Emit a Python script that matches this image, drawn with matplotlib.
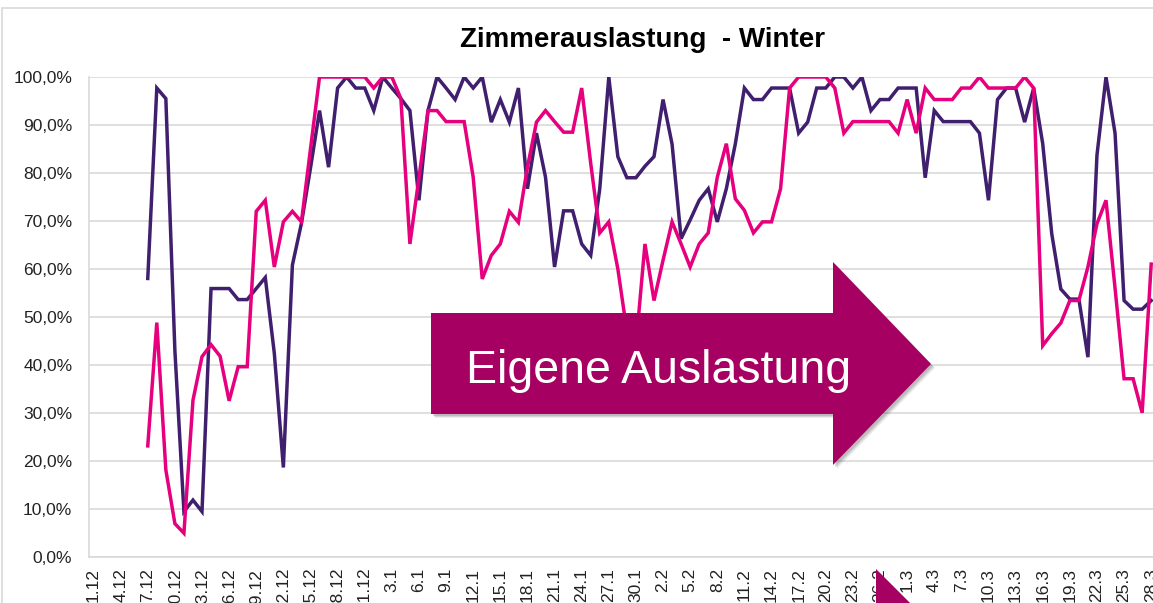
import matplotlib
matplotlib.use("Agg")
import matplotlib.pyplot as plt
from matplotlib.patches import Polygon, Rectangle
import numpy as np
import pandas as pd

plt.rcParams['font.family'] = ['Liberation Sans', 'DejaVu Sans']

# ---------------- data ----------------
title = "Zimmerauslastung  - Winter"
arrow_text = "Eigene Auslastung"
start_date = "2018-12-01"
n_days = 120
first_idx = 6  # series start at 7.12

dark_series = [
    58.0, 97.7, 95.5, 43.0, 9.4, 11.8, 9.4, 55.9, 55.9, 55.9,
    53.6, 53.6, 55.9, 58.2, 42.4, 18.6, 60.8, 69.5, 81.0, 93.0,
    81.2, 97.7, 100.0, 97.7, 97.7, 93.0, 100.0, 97.7, 95.5, 93.0,
    74.3, 93.0, 100.0, 97.7, 95.3, 100.0, 97.7, 100.0, 90.6, 95.3,
    90.6, 97.7, 76.7, 88.3, 79.1, 60.4, 72.1, 72.1, 65.2, 62.8,
    76.7, 100.0, 83.4, 79.0, 79.0, 81.4, 83.4, 95.3, 86.0, 66.3,
    70.2, 74.3, 76.7, 69.8, 76.7, 86.1, 97.7, 95.3, 95.3, 97.7,
    97.7, 97.7, 88.3, 90.6, 97.7, 97.7, 100.0, 100.0, 97.7, 100.0,
    93.0, 95.3, 95.3, 97.7, 97.7, 97.7, 79.0, 93.0, 90.7, 90.7,
    90.7, 90.7, 88.3, 74.3, 95.3, 97.7, 97.7, 90.6, 97.7, 86.1,
    67.3, 55.8, 53.7, 53.7, 41.6, 83.7, 100.0, 88.3, 53.4, 51.6,
    51.6, 53.4,
]

pink_series = [
    23.1, 48.8, 18.1, 6.9, 4.9, 32.6, 41.7, 44.2, 41.8, 32.5,
    39.6, 39.6, 72.0, 74.3, 60.4, 69.8, 72.0, 69.8, 85.0, 100.0,
    100.0, 100.0, 100.0, 100.0, 100.0, 97.7, 100.0, 100.0, 95.5, 65.2,
    79.0, 93.0, 93.0, 90.7, 90.7, 90.7, 79.1, 57.9, 62.8, 65.2,
    72.0, 69.7, 81.2, 90.6, 93.0, 90.7, 88.5, 88.5, 97.7, 82.0,
    67.5, 69.8, 60.0, 47.0, 44.0, 65.2, 53.4, 61.8, 69.8, 65.2,
    60.4, 65.2, 67.5, 79.1, 86.1, 74.6, 72.2, 67.5, 69.8, 69.8,
    76.7, 97.7, 100.0, 100.0, 100.0, 100.0, 97.7, 88.3, 90.7, 90.7,
    90.7, 90.7, 90.7, 88.3, 95.3, 88.3, 97.7, 95.3, 95.3, 95.3,
    97.7, 97.7, 100.0, 97.7, 97.7, 97.7, 97.7, 100.0, 97.7, 44.0,
    46.5, 48.7, 53.4, 53.4, 60.4, 69.4, 74.3, 56.0, 37.1, 37.1,
    30.0, 61.0,
]

y_ticks = [0, 10, 20, 30, 40, 50, 60, 70, 80, 90, 100]

dates = pd.date_range(start_date, periods=n_days)
date_labels = [f"{d.day}.{d.month}" for d in dates]
label_step = 3

# ---------------- figure ----------------
W, H = 1153, 603
fig = plt.figure(figsize=(W / 100, H / 100), dpi=100)

def fx(x):
    return x / W

def fy(y):
    return 1 - y / H

# outer chart frame (light gray)
frame = Rectangle((fx(1.5), fy(700)), fx(1300), fy(7.5) - fy(700),
                  transform=fig.transFigure, fill=False,
                  edgecolor="#D9D9D9", linewidth=1.2, zorder=0.5)
fig.patches.append(frame)

px_per_day = 9.04
ax_left, ax_top, ax_bottom = 89, 77, 556.7
ax_w_px = n_days * px_per_day
ax = fig.add_axes([fx(ax_left), fy(ax_bottom), ax_w_px / W, (ax_bottom - ax_top) / H])

x = np.arange(n_days)
dark = np.full(n_days, np.nan)
dark[first_idx:first_idx + len(dark_series)] = dark_series
pink = np.full(n_days, np.nan)
pink[first_idx:first_idx + len(pink_series)] = pink_series

ax.plot(x, dark, color="#3F1F6E", linewidth=2.5, solid_joinstyle="miter", zorder=3)
ax.plot(x, pink, color="#E6007E", linewidth=2.5, solid_joinstyle="miter", zorder=4)

ax.set_xlim(-0.5, n_days - 0.5)
ax.set_ylim(0, 100)
ax.set_yticks(y_ticks)
ax.set_yticklabels([f"{v:.1f}".replace(".", ",") + "%" for v in y_ticks])
ax.yaxis.grid(True, color="#D9D9D9", linewidth=1.2)
ax.set_axisbelow(True)

tick_pos = x[::label_step]
ax.set_xticks(tick_pos)
ax.set_xticklabels([date_labels[i] for i in tick_pos], rotation=90, va="top", ha="center")

ax.tick_params(axis="y", length=0, pad=12, labelsize=12.5, labelcolor="#222222")
ax.tick_params(axis="x", length=0, pad=8, labelsize=12.5, labelcolor="#222222")

for s in ["top", "right"]:
    ax.spines[s].set_visible(False)
ax.spines["left"].set_color("#D9D9D9")
ax.spines["bottom"].set_color("#D9D9D9")
ax.spines["left"].set_linewidth(1.2)
ax.spines["bottom"].set_linewidth(1.2)

# title
fig.text(fx(642), fy(46.7), title, ha="center", va="baseline",
         fontsize=20, fontweight="bold", color="black")

# big arrow
arrow_color = "#A70063"
arrow_px = [(431, 313), (833, 313), (833, 262), (931, 364), (833, 465), (833, 414), (431, 414)]
for off, a in [(4, 0.10), (3, 0.15), (2, 0.2)]:
    sh = Polygon([(fx(px + off), fy(py + off)) for px, py in arrow_px], closed=True,
                 transform=fig.transFigure, facecolor="#555555", edgecolor="none",
                 alpha=a, zorder=5)
    fig.patches.append(sh)
arrow = Polygon([(fx(px), fy(py)) for px, py in arrow_px], closed=True,
                transform=fig.transFigure, facecolor=arrow_color, edgecolor="none", zorder=6)
fig.patches.append(arrow)
fig.text(fx(466), fy(382.7), arrow_text, ha="left", va="baseline",
         fontsize=33.5, color="white", zorder=7)

# second (cropped) arrow at the bottom
tri_px = [(876, 569), (914, 607), (876, 607)]
for off, a in [(3, 0.12), (2, 0.18)]:
    sh = Polygon([(fx(px + off), fy(py + off)) for px, py in tri_px], closed=True,
                 transform=fig.transFigure, facecolor="#555555", edgecolor="none",
                 alpha=a, zorder=5)
    fig.patches.append(sh)
tri = Polygon([(fx(px), fy(py)) for px, py in tri_px], closed=True,
              transform=fig.transFigure, facecolor=arrow_color, edgecolor="none", zorder=6)
fig.patches.append(tri)

fig.savefig("out.png", dpi=100)
